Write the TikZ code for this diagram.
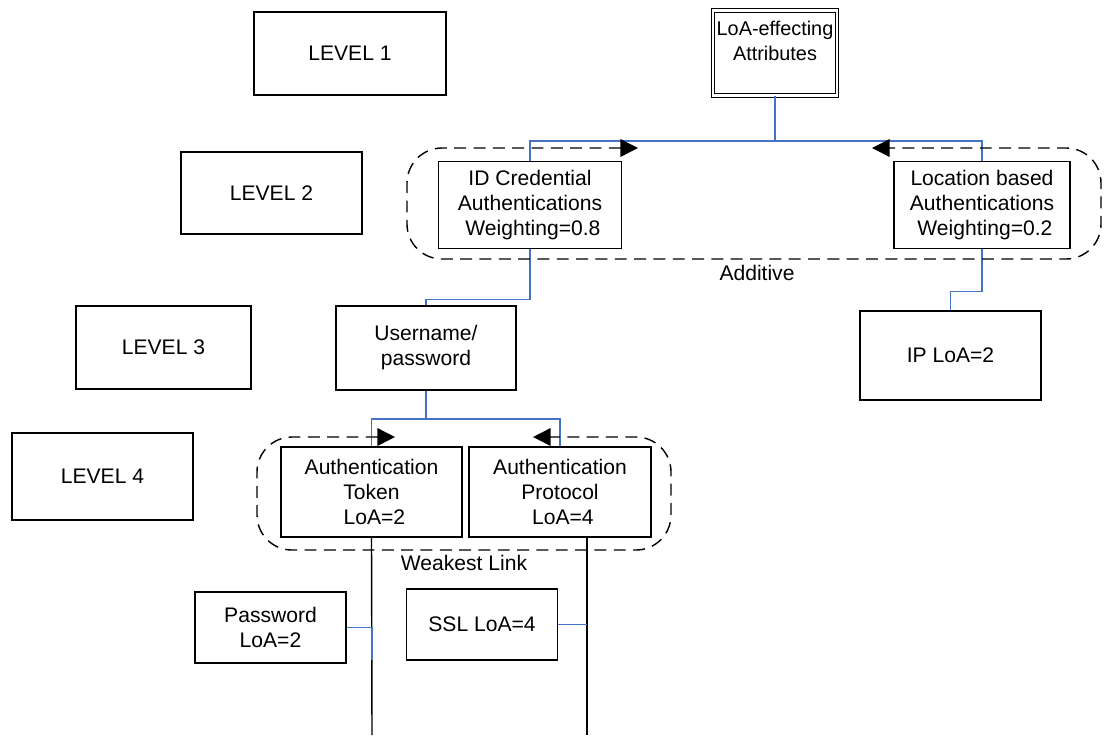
\documentclass[tikz,border=0pt]{standalone}
\usepackage{fontspec}
\setmainfont{Liberation Sans}
\usepackage{tikz}
\usetikzlibrary{arrows.meta,calc}
\definecolor{linkblue}{RGB}{68,114,196}
\tikzset{box/.style={draw, line width=0.8pt, align=center, inner sep=0pt}}
\tikzset{dbox/.style={draw, double, double distance=0.045cm, line width=0.6pt, align=center, inner sep=0pt}}
\tikzset{link/.style={draw=linkblue, line width=0.7pt}}
\tikzset{stem/.style={draw=black, line width=0.8pt}}
\tikzset{grouploop/.style={line width=0.8pt, dash pattern=on 6.8pt off 4.2pt, rounded corners=0.7cm, arrows={Triangle[length=10pt,width=10pt]-Triangle[length=10pt,width=10pt]}}}
\tikzset{grouplabel/.style={inner sep=0pt}}

\begin{document}
\begin{tikzpicture}[x=0.02cm, y=-0.02cm, every node/.append style={font=\fontsize{12}{14.2}\selectfont}]
\useasboundingbox (0,0) rectangle (1109,735);
%levels on the left
\node (lvl1) at (350,53.5)[box, minimum width=3.84cm, minimum height=1.66cm]{LEVEL 1};
\node (lvl2) at (271.5,193)[box, minimum width=3.62cm, minimum height=1.64cm]{LEVEL 2};
\node (lvl3) at (163.5,347.5)[box, minimum width=3.5cm, minimum height=1.66cm]{LEVEL 3};
\node (lvl4) at (102.5,476.5)[box, minimum width=3.62cm, minimum height=1.74cm]{LEVEL 4};
%attribute tree
\node (loa) at (775,53)[dbox, minimum width=2.48cm, minimum height=1.7cm, font=\fontsize{11.3}{14}\selectfont]{LoA-effecting\\Attributes\\\mbox{}};
\node (id) at (530,205)[box, minimum width=3.66cm, minimum height=1.74cm]{ID Credential\\Authentications\\~Weighting=0.8};
\node (loc) at (982,205)[box, minimum width=3.52cm, minimum height=1.74cm]{Location based\\Authentications\\~Weighting=0.2};
\node (user) at (426,348)[box, minimum width=3.6cm, minimum height=1.68cm]{Username/\\password};
\node (ip) at (950.5,355.5)[box, minimum width=3.62cm, minimum height=1.78cm]{IP LoA=2};
\node (token) at (371.5,492)[box, minimum width=3.62cm, minimum height=1.8cm]{Authentication\\Token\\~LoA=2};
\node (proto) at (560,492)[box, minimum width=3.64cm, minimum height=1.8cm]{Authentication\\Protocol\\~LoA=4};
\node (password) at (270.5,627.5)[box, minimum width=3.02cm, minimum height=1.42cm]{Password\\LoA=2};
\node (ssl) at (482,624.5)[box, minimum width=3.02cm, minimum height=1.42cm]{SSL LoA=4};
\node (additive) at (757,273)[grouplabel]{Additive};
\node (weakest) at (464,563)[grouplabel]{Weakest Link};
%blue links
\coordinate (topbus) at (775,141);
\coordinate (midbus) at (426,419);
\draw[link] (loa.south)--(topbus)-|(id.north);
\draw[link] (topbus)-|(loc.north);
\draw[link] (id.south)--++(0,50)-|(user.north);
\draw[link] (loc.south)--++(0,42)-|(ip.north);
\draw[link] (user.south)--(midbus)-|(token.north);
\draw[link] (midbus)-|(proto.north);
%stems down to the bottom
\coordinate (tokenfoot) at (372,735);
\coordinate (protofoot) at (587,735);
\draw[stem] (token.south)--(tokenfoot);
\draw[stem] (proto.south -| protofoot)--(protofoot);
\draw[link] (password.east)--(password.east -| tokenfoot)--++(0,32);
\draw[link] (ssl.east)--(ssl.east -| protofoot);
%dashed groups
\draw[grouploop] (638,148)--(407,148)--(407,259)--(1101,259)--(1101,148)--(872,148);
\draw[grouploop] (395,437)--(257,437)--(257,550)--(671,550)--(671,437)--(533,437);
\end{tikzpicture}
\end{document}
